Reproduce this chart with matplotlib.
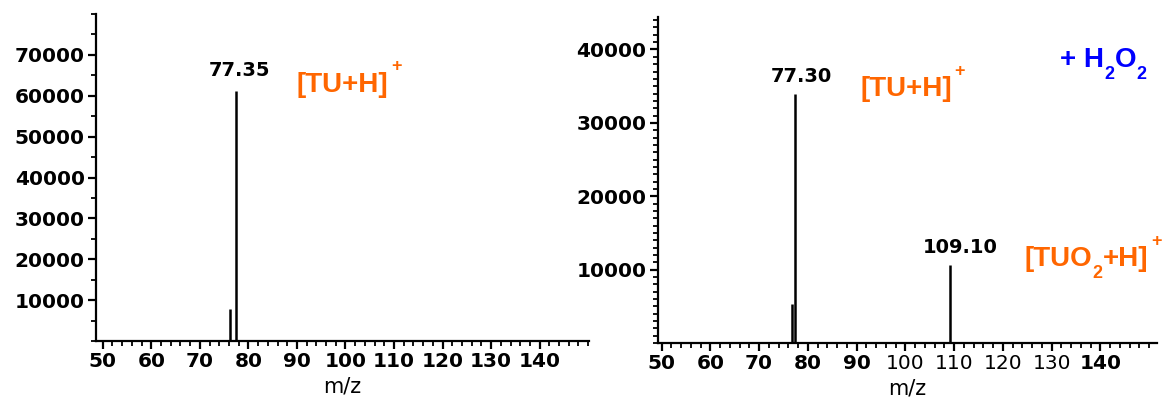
import matplotlib
matplotlib.use("Agg")
import matplotlib.pyplot as plt
from matplotlib.ticker import MultipleLocator

# peak data
mz_left = [76.3, 77.35]
int_left = [7900, 61100]

mz_right = [76.75, 77.30, 109.10]
int_right = [5400, 34000, 10700]

ticks_x = [50, 60, 70, 80, 90, 100, 110, 120, 130, 140]
ticks_y_left = [10000, 20000, 30000, 40000, 50000, 60000, 70000]
ticks_y_right = [10000, 20000, 30000, 40000]

orange = "#ff6600"
blue = "#0000ff"

fig = plt.figure(figsize=(11.62, 4.09), dpi=100)
ax1 = fig.add_axes([0.0826, 0.166, 0.4244, 0.7998])
ax2 = fig.add_axes([0.566, 0.161, 0.4297, 0.797])
renderer = fig.canvas.get_renderer()


def style_axis(ax, xlim, ylim, yticks, yminor):
    for side in ["top", "right"]:
        ax.spines[side].set_visible(False)
    for side in ["left", "bottom"]:
        ax.spines[side].set_linewidth(1.6)
    ax.set_xlim(*xlim)
    ax.set_ylim(*ylim)
    ax.set_xticks(ticks_x)
    ax.xaxis.set_minor_locator(MultipleLocator(2))
    ax.set_yticks(yticks)
    ax.yaxis.set_minor_locator(MultipleLocator(yminor))
    ax.tick_params(which="major", direction="out", length=6, width=1.6,
                   labelsize=14.5, pad=2)
    ax.tick_params(which="minor", direction="out", length=3.5, width=1.3)
    for lab in ax.get_xticklabels() + ax.get_yticklabels():
        lab.set_fontweight("bold")
    ax.set_xlabel("m/z", fontsize=15, labelpad=4)


def rich_label(ax, x, y, parts, color, size=20, small=13):
    # parts: list of (text, kind) where kind is "n", "sub" or "sup"
    dx = 0.0
    for s, kind in parts:
        fs = size if kind == "n" else small
        dy = {"n": 0, "sub": -8.5, "sup": 15}[kind]
        if kind == "sup":
            dx += 2
        t = ax.annotate(s, xy=(x, y), xycoords="data", xytext=(dx, dy),
                        textcoords="offset points", color=color, fontsize=fs,
                        fontweight="bold", family="Liberation Sans",
                        ha="left", va="baseline", annotation_clip=False)
        w = t.get_window_extent(renderer).width
        dx += w * 72.0 / fig.dpi


style_axis(ax1, (48.6, 150.2), (0, 80000), ticks_y_left, 5000)
style_axis(ax2, (49.2, 151.6), (0, 44400), ticks_y_right, 1000)

# thinner-looking labels in the middle of the right axis
for lab in ax2.get_xticklabels():
    if lab.get_text() in ["100", "110", "120", "130"]:
        lab.set_fontweight("normal")

ax1.vlines(mz_left, 0, int_left, colors="black", linewidth=1.8)
ax2.vlines(mz_right, 0, int_right, colors="black", linewidth=1.8)

# peak labels
ax1.text(mz_left[1] + 0.9, 63800, "77.35", ha="center", va="bottom",
         fontsize=14, fontweight="bold")
ax2.text(mz_right[1] + 1.3, 35000, "77.30", ha="center", va="bottom",
         fontsize=14, fontweight="bold")
ax2.text(mz_right[2] + 2.2, 11800, "109.10", ha="center", va="bottom",
         fontsize=14, fontweight="bold")

# ion assignments
rich_label(ax1, 90.0, 61000, [("[TU+H]", "n"), ("+", "sup")], orange)
rich_label(ax2, 90.7, 33600, [("[TU+H]", "n"), ("+", "sup")], orange)
rich_label(ax2, 124.5, 10450,
           [("[TUO", "n"), ("2", "sub"), ("+H]", "n"), ("+", "sup")], orange)
rich_label(ax2, 131.8, 37650,
           [("+ H", "n"), ("2", "sub"), ("O", "n"), ("2", "sub")], blue)

fig.savefig("out.png", dpi=100)
